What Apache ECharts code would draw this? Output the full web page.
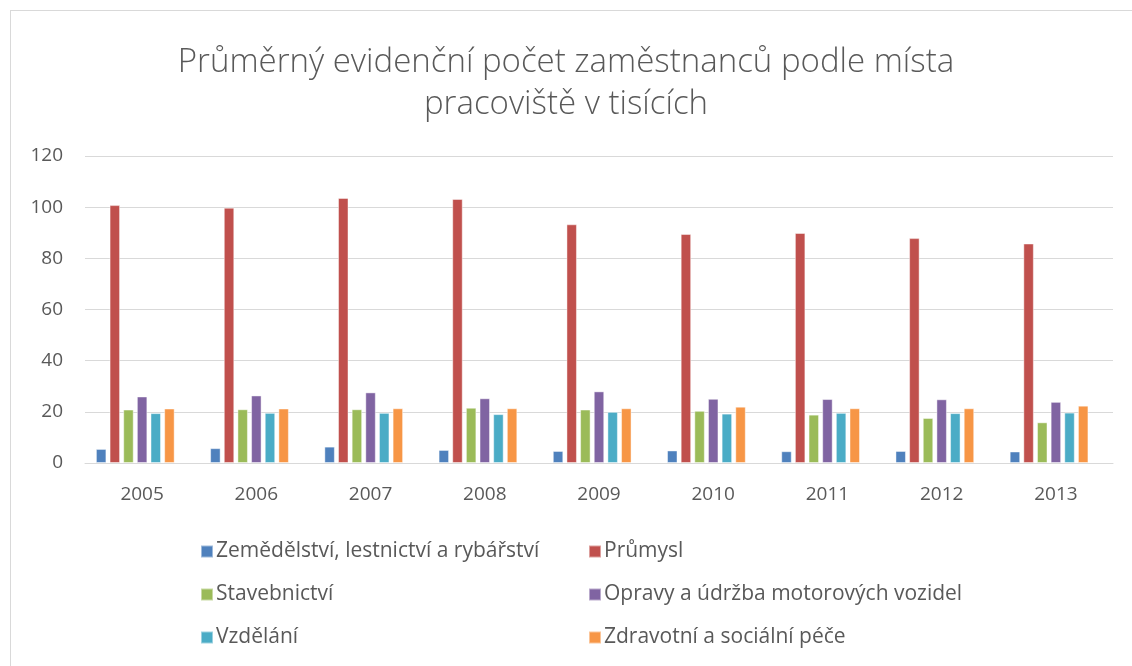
<!DOCTYPE html>
<html>
<head>
<meta charset="utf-8">
<script src="https://cdn.jsdelivr.net/npm/echarts@6/dist/echarts.min.js"></script>
<style>
  html, body { margin: 0; padding: 0; background: #fff; }
  #frame { position: absolute; left: 10px; top: 10px; width: 1140px; height: 680px; border: 1px solid #d9d9d9; }
  #chart { position: absolute; left: 0; top: 0; width: 1132px; height: 666px; }
</style>
</head>
<body>
<div id="frame"></div>
<div id="chart"></div>
<script>
// roky
const years = ['2005', '2006', '2007', '2008', '2009', '2010', '2011', '2012', '2013'];
const seriesNames = [
  'Zemědělství, lestnictví a rybářství',
  'Průmysl',
  'Stavebnictví',
  'Opravy a údržba motorových vozidel',
  'Vzdělání',
  'Zdravotní a sociální péče'
];
const zemedelstvi = [5.5, 5.8, 6.4, 5.1, 4.7, 4.9, 4.6, 4.7, 4.5];
const prumysl     = [100.8, 99.8, 103.6, 103.2, 93.3, 89.5, 89.9, 87.9, 85.8];
const stavebnictvi = [20.9, 21.0, 21.0, 21.6, 20.9, 20.4, 18.9, 17.6, 15.9];
const opravy      = [26.0, 26.4, 27.6, 25.3, 28.0, 25.1, 25.0, 24.9, 23.9];
const vzdelani    = [19.5, 19.6, 19.6, 19.1, 20.0, 19.3, 19.6, 19.5, 19.7];
const zdravotni   = [21.3, 21.3, 21.4, 21.4, 21.4, 22.0, 21.4, 21.4, 22.4];
const yTicks = [0, 20, 40, 60, 80, 100, 120];

const colors = ['#4F81BD', '#C0504D', '#9BBB59', '#8064A2', '#4BACC6', '#F79646'];
const allData = [zemedelstvi, prumysl, stavebnictvi, opravy, vzdelani, zdravotni];
const font = "'Open Sans', 'Noto Sans', sans-serif";

const myChart = echarts.init(document.getElementById('chart'));

const barSeries = seriesNames.map((name, i) => ({
  name: name,
  type: 'bar',
  data: allData[i],
  barWidth: 10.5,
  barGap: '30%',
  itemStyle: { borderColor: 'rgba(255,255,255,0.45)', borderWidth: 1 }
}));
// prázdná řada - posune skupinu sloupců doleva jako v Excelu
barSeries.push({ name: '', type: 'bar', data: [], barWidth: 10.5, barGap: '30%', silent: true });

const legendText = { fontFamily: font, fontSize: 21, color: '#595959', padding: [0, 0, 0, -2] };

myChart.setOption({
  backgroundColor: 'transparent',
  color: colors,
  animation: false,
  title: {
    text: 'Průměrný evidenční počet zaměstnanců podle místa\npracoviště v tisících',
    left: 'center',
    top: 37,
    textStyle: {
      fontFamily: font,
      fontSize: 33,
      fontWeight: 300,
      color: '#595959',
      lineHeight: 42
    }
  },
  legend: [
    {
      orient: 'vertical',
      left: 195,
      top: 536,
      itemWidth: 12,
      itemHeight: 12,
      itemGap: 22,
      icon: 'rect',
      data: [seriesNames[0], seriesNames[2], seriesNames[4]],
      textStyle: legendText
    },
    {
      orient: 'vertical',
      left: 583,
      top: 536,
      itemWidth: 12,
      itemHeight: 12,
      itemGap: 22,
      icon: 'rect',
      data: [seriesNames[1], seriesNames[3], seriesNames[5]],
      textStyle: legendText
    }
  ],
  grid: {
    left: 85,
    right: 19,
    top: 156,
    bottom: 203,
    containLabel: false
  },
  xAxis: {
    type: 'category',
    data: years,
    axisTick: { show: false },
    axisLine: { lineStyle: { color: '#d9d9d9', width: 1 } },
    axisLabel: { fontFamily: font, fontSize: 19, color: '#595959', margin: 22 }
  },
  yAxis: {
    type: 'value',
    min: yTicks[0],
    max: yTicks[yTicks.length - 1],
    interval: 20,
    axisLine: { show: false },
    axisTick: { show: false },
    axisLabel: { fontFamily: font, fontSize: 19, color: '#595959', margin: 22 },
    splitLine: { lineStyle: { color: '#d9d9d9', width: 1 } }
  },
  series: barSeries
});
</script>
</body>
</html>
